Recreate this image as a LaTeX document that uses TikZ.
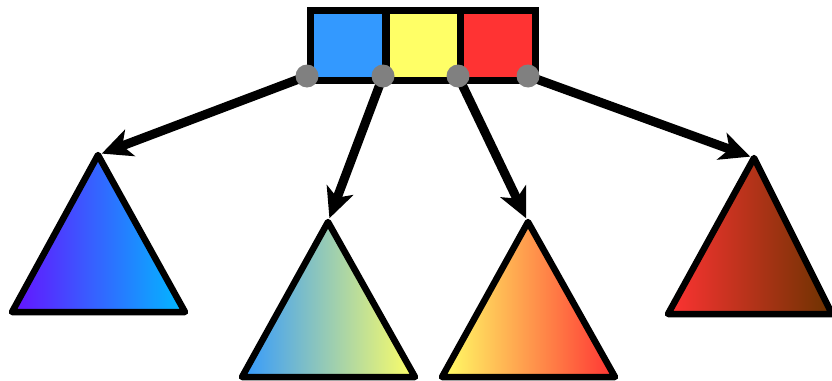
\documentclass[tikz,border=0pt]{standalone}
\usetikzlibrary{arrows.meta}
\definecolor{cblue}{HTML}{3399FF}
\definecolor{cyellow}{HTML}{FFFF66}
\definecolor{cred}{HTML}{FF3333}
\definecolor{cpurple}{HTML}{6611FF}
\definecolor{ccyan}{HTML}{00BBFF}
\definecolor{cbrown}{HTML}{6B3300}
\definecolor{cdot}{HTML}{808080}
\tikzset{
  cell/.style={draw=black, line width=6.5pt, minimum width=75pt, minimum height=70pt, inner sep=0pt, anchor=north west},
  tri/.style={draw=black, line width=6.5pt, line join=round},
  link/.style={line width=9pt, -{Stealth[length=30pt,width=28pt,inset=8pt]}, shorten >=4pt},
  pin/.style={circle, fill=cdot, minimum size=23pt, inner sep=0pt}
}
\begin{document}
\begin{tikzpicture}[x=1pt,y=-1pt]
\useasboundingbox (0,0) rectangle (832,380);
% boxes
\node[cell, fill=cblue] (b1) at (307,7) {};
\node[cell, fill=cyellow] (b2) at (383,7) {};
\node[cell, fill=cred] (b3) at (457,7) {};
% triangles
\coordinate (t1) at (98,155);
\coordinate (t2) at (328,222);
\coordinate (t3) at (528,222);
\coordinate (t4) at (754,158);
\path[tri, left color=cpurple, right color=ccyan] (t1) -- (185,312) -- (12,312) -- cycle;
\path[tri, left color=cblue, right color=cyellow] (t2) -- (415,377) -- (242,377) -- cycle;
\path[tri, left color=cyellow, right color=cred] (t3) -- (615,377) -- (442,377) -- cycle;
\path[tri, left color=cred, right color=cbrown] (t4) -- (832,314) -- (668,314) -- cycle;
% pins
\coordinate (p1) at (307,76);
\coordinate (p2) at (383,76);
\coordinate (p3) at (458,76);
\coordinate (p4) at (528,76);
\draw[link] (p1) -- (t1);
\draw[link] (p2) -- (t2);
\draw[link] (p3) -- (t3);
\draw[link] (p4) -- (t4);
\node[pin] (d1) at (p1) {};
\node[pin] (d2) at (p2) {};
\node[pin] (d3) at (p3) {};
\node[pin] (d4) at (p4) {};
\end{tikzpicture}
\end{document}
